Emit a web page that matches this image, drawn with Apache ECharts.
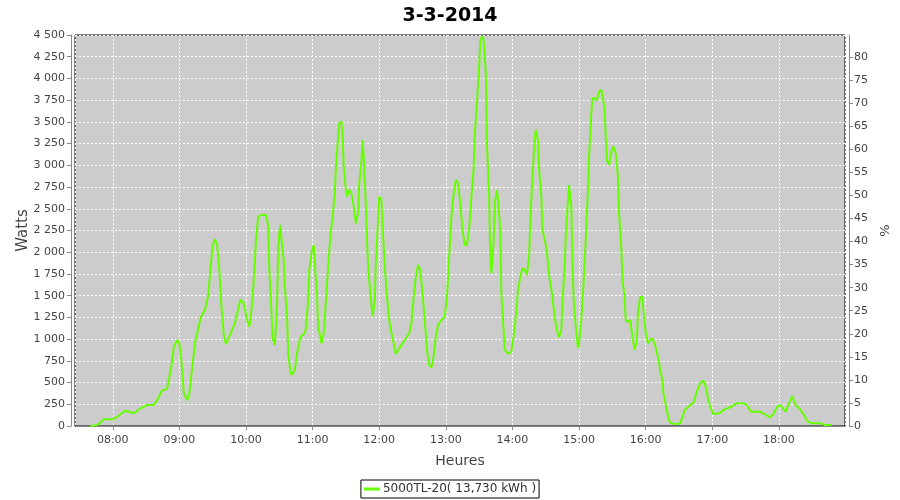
<!DOCTYPE html>
<html>
<head>
<meta charset="utf-8">
<script src="https://cdn.jsdelivr.net/npm/echarts@6/dist/echarts.min.js"></script>
<style>html,body{margin:0;padding:0;background:#fff}#c{width:900px;height:500px}</style>
</head>
<body>
<div id="c"></div>
<script>
const title = "3-3-2014";
const seriesName = "5000TL-20( 13,730 kWh )";
const times = ["07:40","07:46","07:52","08:00","08:05","08:11","08:19","08:25","08:31","08:37","08:41","08:44","08:49","08:53","08:55","08:58","09:00","09:02","09:04","09:07","09:09","09:11","09:14","09:19","09:23","09:26","09:28","09:30","09:32","09:34","09:36","09:38","09:40","09:42","09:45","09:50","09:55","09:58","10:01","10:03","10:05","10:07","10:09","10:11","10:14","10:18","10:20","10:21","10:23","10:24","10:26","10:27","10:28","10:29","10:30","10:31","10:32","10:34","10:35","10:37","10:38","10:40","10:41","10:44","10:46","10:49","10:53","10:54","10:56","10:57","10:59","11:01","11:02","11:04","11:05","11:08","11:10","11:12","11:14","11:16","11:18","11:20","11:21","11:23","11:24","11:26","11:27","11:28","11:30","11:31","11:33","11:35","11:37","11:39","11:41","11:42","11:44","11:45","11:46","11:48","11:49","11:50","11:52","11:54","11:56","11:57","11:59","12:00","12:02","12:03","12:05","12:07","12:09","12:11","12:13","12:15","12:19","12:23","12:27","12:29","12:31","12:33","12:35","12:37","12:39","12:41","12:43","12:45","12:47","12:49","12:51","12:53","12:56","12:59","13:01","13:03","13:05","13:07","13:09","13:11","13:13","13:15","13:17","13:19","13:21","13:23","13:25","13:26","13:28","13:30","13:31","13:33","13:34","13:36","13:37","13:39","13:40","13:41","13:43","13:44","13:46","13:47","13:49","13:50","13:52","13:53","13:56","13:59","14:01","14:03","14:05","14:07","14:09","14:11","14:13","14:15","14:16","14:18","14:20","14:21","14:23","14:24","14:26","14:27","14:29","14:31","14:33","14:36","14:38","14:40","14:42","14:44","14:45","14:47","14:48","14:50","14:51","14:53","14:54","14:55","14:57","14:59","15:00","15:02","15:04","15:06","15:08","15:09","15:11","15:12","15:14","15:16","15:18","15:20","15:21","15:23","15:24","15:25","15:27","15:29","15:31","15:33","15:35","15:36","15:38","15:39","15:41","15:42","15:44","15:46","15:48","15:50","15:52","15:53","15:55","15:57","15:58","16:00","16:02","16:04","16:06","16:08","16:11","16:13","16:15","16:16","16:19","16:21","16:23","16:28","16:31","16:33","16:35","16:37","16:40","16:43","16:46","16:49","16:52","16:54","16:56","16:58","17:01","17:06","17:11","17:17","17:22","17:28","17:31","17:35","17:43","17:47","17:52","17:55","17:58","18:01","18:06","18:09","18:12","18:15","18:19","18:22","18:26","18:30","18:38","18:41","18:47"];
const watts = [0,10,77,77,115,176,146,204,242,242,318,403,434,702,913,990,952,722,376,299,376,607,952,1240,1335,1508,1796,2083,2149,2083,1796,1355,1047,944,1028,1182,1458,1412,1220,1143,1335,1681,2141,2409,2429,2429,2294,1796,1297,1009,932,1143,1412,2026,2218,2314,2141,1911,1604,1258,837,625,587,645,837,1028,1067,1143,1450,1796,1988,2083,1873,1488,1143,952,1067,1450,1834,2179,2409,2678,2985,3330,3484,3503,3369,2985,2716,2640,2716,2678,2525,2333,2448,2793,3061,3291,3100,2525,2141,1834,1527,1258,1450,1911,2371,2640,2602,2294,1834,1488,1220,1067,952,829,913,990,1067,1182,1488,1719,1853,1796,1527,1220,875,702,675,798,1028,1162,1220,1258,1488,1949,2409,2678,2832,2793,2563,2256,2083,2083,2256,2640,2947,3330,3714,4136,4443,4489,4443,4059,3254,2640,1949,1757,2103,2563,2716,2602,2256,1527,1105,875,829,856,1028,1258,1565,1719,1815,1796,1738,1949,2333,2870,3291,3407,3291,2947,2640,2256,2150,2010,1730,1488,1258,1105,1021,1105,1412,1834,2179,2602,2774,2525,1911,1488,1143,894,952,1220,1642,2141,2716,3100,3599,3772,3772,3745,3848,3867,3810,3637,3330,3061,3004,3157,3215,3138,2870,2448,2064,1681,1488,1212,1200,1220,1028,875,990,1297,1488,1488,1335,1067,952,990,1009,952,798,645,530,376,184,61,31,23,31,100,184,204,242,268,395,491,522,453,319,222,138,146,192,222,261,261,242,165,165,138,100,138,215,242,165,261,345,242,192,138,50,31,31,12,12];

const toMin = s => { const p = s.split(":"); return (+p[0]) * 60 + (+p[1]); };
const pad = n => (n < 10 ? "0" : "") + n;
const data = times.map((t, i) => [toMin(t), watts[i]]);

const chart = echarts.init(document.getElementById("c"), null, {renderer: "canvas"});
const font = "DejaVu Sans";
chart.setOption({
  animation: false,
  backgroundColor: "#ffffff",
  title: {
    text: title, left: "center", top: 2,
    textStyle: {fontFamily: font, fontSize: 19, fontWeight: "bold", color: "#000"}
  },
  legend: {
    bottom: 2, left: "center",
    data: [seriesName],
    icon: "rect", itemWidth: 16, itemHeight: 3, itemGap: 4,
    borderColor: "#000", borderWidth: 1, padding: [3, 3, 3, 3],
    textStyle: {fontFamily: font, fontSize: 12, color: "#333", padding: [0, 0, 0, -2]}
  },
  grid: {
    left: 75, right: 53, top: 35, bottom: 74,
    show: true, backgroundColor: "#cccccc", borderColor: "#000", borderWidth: 1
  },
  xAxis: {
    type: "value", min: 446, max: 1139.5, minInterval: 60, maxInterval: 60,
    offset: 4,
    name: "Heures", nameLocation: "middle", nameGap: 24,
    nameTextStyle: {fontFamily: font, fontSize: 14, color: "#444"},
    axisLine: {show: true, lineStyle: {color: "#888"}},
    axisTick: {show: true, length: 4, lineStyle: {color: "#888"}},
    axisLabel: {
      fontFamily: font, fontSize: 11, color: "#444", margin: 5,
      showMinLabel: false, showMaxLabel: false,
      formatter: v => pad(Math.floor(v / 60)) + ":" + pad(Math.round(v % 60))
    },
    splitLine: {show: true, lineStyle: {color: "#fff", type: [2, 2], width: 1}}
  },
  yAxis: [{
    type: "value", min: 0, max: 4500, interval: 250, position: "left", offset: 4,
    name: "Watts", nameLocation: "middle", nameGap: 40, nameRotate: 90, nameMoveOverlap: false,
    nameTextStyle: {fontFamily: font, fontSize: 15, color: "#444"},
    axisLine: {show: true, lineStyle: {color: "#888"}},
    axisTick: {show: true, length: 4, lineStyle: {color: "#888"}},
    axisLabel: {
      fontFamily: font, fontSize: 11, color: "#444", margin: 6,
      formatter: v => String(v).replace(/\B(?=(\d{3})+(?!\d))/g, " ")
    },
    splitLine: {show: true, lineStyle: {color: "#fff", type: [2, 2], width: 1}}
  }, {
    type: "value", min: 0, max: 84.8, interval: 5, position: "right", offset: 4,
    name: "%", nameLocation: "middle", nameGap: 30, nameRotate: 90,
    nameTextStyle: {fontFamily: font, fontSize: 13, color: "#444"},
    axisLine: {show: true, lineStyle: {color: "#888"}},
    axisTick: {show: true, length: 4, lineStyle: {color: "#888"}},
    axisLabel: {fontFamily: font, fontSize: 11, color: "#444", margin: 5, showMaxLabel: false},
    splitLine: {show: false}
  }],
  series: [{
    name: seriesName, type: "line", yAxisIndex: 0,
    data: data, symbol: "none", showSymbol: false,
    lineStyle: {color: "#66ff00", width: 2},
    itemStyle: {color: "#66ff00"}
  }]
});
</script>
</body>
</html>
